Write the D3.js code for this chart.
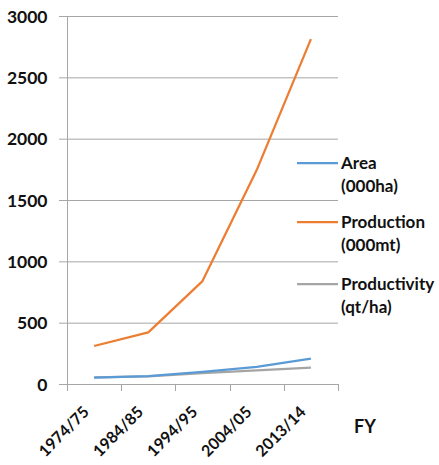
<!DOCTYPE html>
<html>
<head>
<meta charset="utf-8">
<script src="https://cdn.jsdelivr.net/npm/d3@7"></script>
<style>
body { margin: 0; background: #fff; }
text { font-family: Lato, "Open Sans", sans-serif; font-weight: bold; fill: #111; }
</style>
</head>
<body>
<script>
var years = ["1974/75", "1984/85", "1994/95", "2004/05", "2013/14"];
var area = [52, 65, 98, 140, 206];
var production = [310, 421, 839, 1744, 2812];
var productivity = [55, 63, 88, 112, 134];
var yTicks = [0, 500, 1000, 1500, 2000, 2500, 3000];

var series = [
    { name: "Area", unit: "(000ha)", values: area, color: "#5B9BD5" },
    { name: "Production", unit: "(000mt)", values: production, color: "#ED7D31" },
    { name: "Productivity", unit: "(qt/ha)", values: productivity, color: "#A5A5A5" }
];

var w = 439, h = 465;

var svg = d3.select("body")
    .append("svg")
    .attr("width", w)
    .attr("height", h);

var x = d3.scaleBand().domain(years).range([67, 338]);
var y = d3.scaleLinear().domain([0, 3000]).range([384, 16]);

// grid lines
svg.selectAll(".grid")
    .data(yTicks)
    .enter()
    .append("line")
    .attr("x1", 59)
    .attr("x2", 338)
    .attr("y1", function (d) { return y(d) + 0.5 })
    .attr("y2", function (d) { return y(d) + 0.5 })
    .attr("stroke", "#a6a6a6")
    .attr("stroke-width", 1);

// y axis
var yAxis = svg.append("g")
    .attr("transform", "translate(67.5,0.5)")
    .call(d3.axisLeft(y).tickValues(yTicks).tickFormat(d3.format("d")).tickSize(0).tickPadding(20));
yAxis.select(".domain").remove();
yAxis.selectAll("text").style("font-size", "17.5px").attr("fill", "#111");

svg.append("line")
    .attr("x1", 67.5).attr("x2", 67.5)
    .attr("y1", y(3000)).attr("y2", 391)
    .attr("stroke", "#a6a6a6");

// x axis labels
var xAxis = svg.append("g")
    .attr("transform", "translate(0," + y(0) + ")")
    .call(d3.axisBottom(x).tickSize(0));
xAxis.select(".domain").remove();
xAxis.selectAll("text")
    .style("font-size", "16px")
    .attr("fill", "#111")
    .attr("text-anchor", "end")
    .attr("x", 0)
    .attr("y", 0)
    .attr("dy", 0)
    .attr("transform", "translate(-4,29) rotate(-45)");

var edges = years.map(function (d) { return x(d) }).concat([x.range()[1]]);
svg.selectAll(".xtick")
    .data(edges)
    .enter()
    .append("line")
    .attr("x1", function (d) { return Math.round(d) + 0.5 })
    .attr("x2", function (d) { return Math.round(d) + 0.5 })
    .attr("y1", y(0))
    .attr("y2", y(0) + 7)
    .attr("stroke", "#a6a6a6");

svg.append("text")
    .attr("x", 354)
    .attr("y", 433)
    .style("font-size", "18px")
    .text("FY");

// lines
var line = d3.line()
    .x(function (d, i) { return x(years[i]) + x.bandwidth() / 2 })
    .y(function (d) { return y(d) });

// draw gray first, then blue, then orange
[2, 0, 1].forEach(function (k) {
    svg.append("path")
        .datum(series[k].values)
        .attr("d", line)
        .attr("fill", "none")
        .attr("stroke", series[k].color)
        .attr("stroke-width", 2.25)
        .attr("stroke-linejoin", "round");
});

// legend
var legendY = [163, 222, 284];
series.forEach(function (s, i) {
    var g = svg.append("g").attr("transform", "translate(0," + legendY[i] + ")");
    g.append("line")
        .attr("x1", 297).attr("x2", 338)
        .attr("y1", 0).attr("y2", 0)
        .attr("stroke", s.color)
        .attr("stroke-width", 2.25);
    g.append("text")
        .attr("x", 341).attr("y", 0).attr("dy", "0.35em")
        .style("font-size", "17px")
        .text(s.name);
    g.append("text")
        .attr("x", 341).attr("y", 23).attr("dy", "0.35em")
        .style("font-size", "17px")
        .text(s.unit);
});
</script>
</body>
</html>
